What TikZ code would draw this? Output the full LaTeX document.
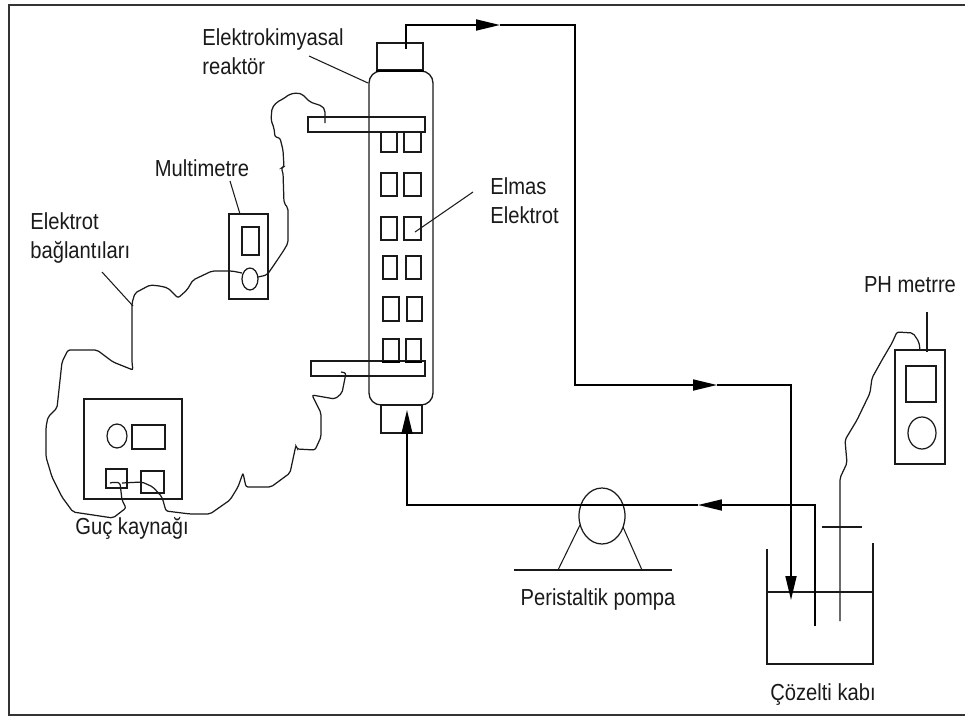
\documentclass[tikz,border=0pt]{standalone}
\usepackage{fontspec}
\setmainfont[FakeStretch=0.87]{Liberation Sans}
\usetikzlibrary{arrows.meta,positioning,shapes.geometric}
\definecolor{RigInk}{HTML}{1A1A1A}
\definecolor{RigFrame}{HTML}{333333}

\begin{document}
\begin{tikzpicture}[
  x=0.02cm, y=-0.02cm,
  outline/.style={draw=RigInk, line width=0.75pt},
  part/.style 2 args={outline, inner sep=0pt, minimum width=#1*0.02cm, minimum height=#2*0.02cm},
  dial/.style 2 args={draw=RigInk, line width=0.7pt, ellipse, inner sep=0pt, minimum width=#1*0.02cm, minimum height=#2*0.02cm},
  tag/.style={font=\fontsize{13.2}{16.5}\selectfont, text=RigInk, inner sep=0pt, align=left},
  wire/.style={draw=RigInk, line width=0.7pt, rounded corners=1.2pt},
  leader/.style={draw=RigInk, line width=0.6pt},
  seat/.style={draw=black, line width=1.3pt},
  pipe/.style={draw=black, line width=1pt},
  flow/.style={pipe, -{Triangle[length=0.48cm, width=0.22cm]}}
]
\useasboundingbox (0,0) rectangle (965,717);
\coordinate (frameTR) at (965,5);
\coordinate (frameTL) at (9,5);
\coordinate (frameBL) at (9,715);
\coordinate (frameBR) at (965,715);
\draw[draw=RigFrame, line width=1pt] (frameTR) -- (frameTL) -- (frameBL) -- (frameBR);

% reactor column
\draw[outline, rounded corners=0.24cm] (369,71) rectangle (433,405);
\node[part={46}{27}] (cap) at (400,56.5) {};
\node[part={41}{28}] (foot) at (401.5,419) {};
\node[part={117}{15}] (topbar) at (366.5,124.5) {};
\node[part={114}{15}] (lowbar) at (368,368.5) {};
\draw[seat] (cap.south west) -- (cap.south east);

% electrode plates
\foreach \cx/\cy/\w/\h/\id in {389/142/16/20/a1, 412.5/142/17/20/a2, 389/184.5/16/23/b1, 412.5/184.5/17/23/b2, 389/228.5/16/23/c1, 412.5/228.5/17/23/c2, 390/267.5/14/23/d1, 413.5/267.5/15/23/d2, 391/309/16/24/e1, 414.5/309/15/24/e2, 391/350/16/22/f1, 413.5/350/15/22/f2}
  \node[part={\w}{\h}] (plate\id) at (\cx,\cy) {};
\draw[seat] (platef1.south west) -- (platef1.south east);
\draw[seat] (platef2.south west) -- (platef2.south east);

% meters and supply
\node[part={39}{85}] (multi) at (248.5,256.5) {};
\node[part={17}{28}] (multiscreen) at (250.5,241) {};
\node[dial={16}{22}] (multidial) at (250,279) {};
\node[part={98}{100}] (supply) at (133,449) {};
\node[dial={20}{24}] (supplydial) at (117,436) {};
\node[part={33}{24}] (supplyscreen) at (148.5,437) {};
\node[part={21}{19}] (termA) at (116.5,478.5) {};
\node[part={23}{22}] (termB) at (152.5,482) {};
\node[part={50}{114}] (phbox) at (920,407) {};
\node[part={30}{36}] (phscreen) at (921,384) {};
\node[dial={28}{32}] (phdial) at (922,433) {};

% pump
\node[dial={46}{56}] (pumphead) at (602,516) {};
\coordinate (pumpbaseL) at (514,570);
\coordinate (pumpbaseR) at (672,570);
\coordinate (legLtop) at (580,525);
\coordinate (legLfoot) at (558,570);
\coordinate (legRtop) at (623,527);
\coordinate (legRfoot) at (642,570);
\draw[outline] (pumpbaseL) -- (pumpbaseR);
\draw[leader] (legLtop) -- (legLfoot);
\draw[leader] (legRtop) -- (legRfoot);

% vessel
\coordinate (vesselL) at (767,549);
\coordinate (vesselR) at (873,543);
\coordinate (levelL) at (767,592);
\coordinate (levelR) at (873,592);
\draw[outline] (vesselL) -- (767,664) -- (873,664) -- (vesselR);
\draw[outline] (levelL) -- (levelR);

% flow loop
\coordinate (outlet) at (406,49);
\coordinate (outTip) at (500,25);
\coordinate (returnTip) at (717,385);
\coordinate (dropTip) at (791,600);
\coordinate (suck) at (815,626);
\coordinate (suckTip) at (698,505);
\coordinate (inTip) at (407,410);
\draw[flow] (outlet) -- (406,25) -- (outTip);
\draw[flow] (outTip) -- (575,25) -- (575,385) -- (returnTip);
\draw[flow] (returnTip) -- (791,385) -- (dropTip);
\draw[flow] (suck) -- (815,505) -- (suckTip);
\draw[flow] (suckTip) -- (407,505) -- (inTip);

% pH probe
\coordinate (probeEnd) at (840,621);
\coordinate (guardL) at (822,527);
\coordinate (guardR) at (862,527);
\draw[outline] (guardL) -- (guardR);
\draw[wire] (probeEnd) -- (840,478) -- (847,463) -- (845,440) -- (857,420) -- (870,393) -- (872,378) -- (882,360) -- (892,343) -- (897,332) -- (913,333) -- (919,342) -- (920,350);

% cables
\draw[wire] (325,123) -- (325,110) -- (322,106) -- (310,102) -- (302,94) -- (297,93) -- (290,94) -- (283,99) -- (277,102) -- (272,108) -- (271,120) -- (274,128) -- (275,137) -- (280,138) -- (283,150) -- (284,167) -- (281,168) -- (283,172) -- (284,203) -- (288,208) -- (288,243) -- (284,250) -- (280,256) -- (276,262) -- (267,275) -- (258,277);
\draw[wire] (242,273) -- (232,271) -- (212,271) -- (193,280) -- (187,290) -- (178,298) -- (168,288) -- (160,286) -- (150,285) -- (135,293) -- (132,303) -- (132,363) -- (133,370) -- (113,362) -- (97,350) -- (68,350) -- (62,362) -- (57,408) -- (48,417) -- (46,427) -- (46,457) -- (52,477) -- (62,497) -- (73,512) -- (113,518) -- (126,508) -- (122,500) -- (120,483) -- (115,482) -- (110,483);
\draw[wire] (122,483) -- (142,482) -- (153,487) -- (162,497) -- (166,511) -- (190,514) -- (210,514) -- (230,500) -- (238,487) -- (243,473) -- (246,487) -- (271,487) -- (290,473) -- (296,445) -- (297,449) -- (315,450) -- (321,437) -- (321,413) -- (312,395) -- (335,399) -- (342,393) -- (346,373) -- (341,372);

% labels
\node[tag, anchor=west] (lblreactor) at (202,52) {Elektrokimyasal\\reaktör};
\node[tag] (lblmulti) at (202,168) {Multimetre};
\node[tag, anchor=west] (lblcables) at (30,238) {Elektrot\\bağlantıları};
\node[tag, anchor=west] (lbldiamond) at (490,201) {Elmas\\Elektrot};
\node[tag] (lblsupply) at (132,528) {Guç kaynağı};
\node[tag] (lblpump) at (598,600) {Peristaltik pompa};
\node[tag] (lblph) at (910,285) {PH metrre};
\node[tag] (lblvessel) at (823,695) {Çözelti kabı};

\coordinate (reactorTag) at (309,56);
\coordinate (reactorHit) at (368,83);
\coordinate (multiTag) at (230,181);
\coordinate (multiHit) at (240,214);
\coordinate (cableTag) at (102,272);
\coordinate (cableHit) at (133,306);
\coordinate (diamondTag) at (473,192);
\coordinate (diamondHit) at (415,232);
\coordinate (phTag) at (927,312);
\coordinate (phHit) at (927,352);
\draw[leader] (reactorTag) -- (reactorHit);
\draw[leader] (multiTag) -- (multiHit);
\draw[leader] (cableTag) -- (cableHit);
\draw[leader] (diamondTag) -- (diamondHit);
\draw[leader] (phTag) -- (phHit);
\end{tikzpicture}
\end{document}
